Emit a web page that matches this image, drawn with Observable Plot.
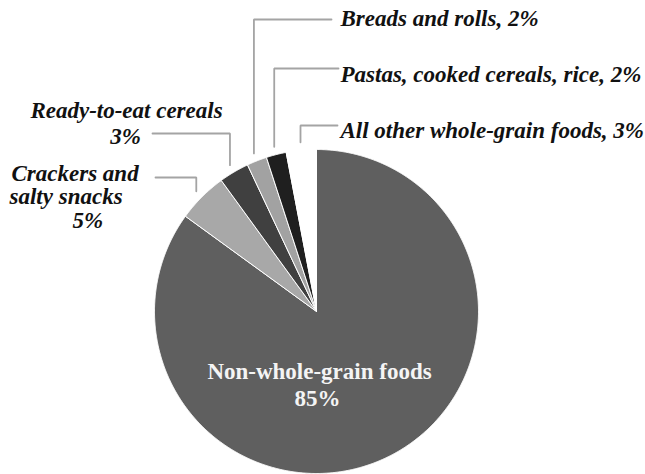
<!DOCTYPE html>
<html><head><meta charset="utf-8">
<script src="https://cdn.jsdelivr.net/npm/d3@7"></script>
<script src="https://cdn.jsdelivr.net/npm/@observablehq/plot@0.6"></script>
<style>
html,body{margin:0;padding:0;background:#fff;}
#chart svg{display:block;}
</style>
</head><body><div id="chart"></div>
<script>
// ---- data ----
const categories = ["Non-whole-grain foods", "Crackers and salty snacks", "Ready-to-eat cereals", "Breads and rolls", "Pastas, cooked cereals, rice", "All other whole-grain foods"];
const shares = [85, 5, 3, 2, 2, 3];
const labelText = [
  ["Non-whole-grain foods", "85%"],
  ["Crackers and", "salty snacks", "5%"],
  ["Ready-to-eat cereals", "3%"],
  ["Breads and rolls, 2%"],
  ["Pastas, cooked cereals, rice, 2%"],
  ["All other whole-grain foods, 3%"]
];

// ---- styles & layout ----
const sliceColors = ["#5f5f5f", "#a8a8a8", "#404040", "#a2a2a2", "#1f1f1f", "#ffffff"];
const W = 645, H = 474, CX = 316, CY = 311, R = 162, GAP = 8;
const layout = [
  {anchor: "middle", lines: [[319, 378], [317, 405]], inside: true},
  {anchor: "start", lines: [[11, 180], [9, 203], [72, 227]], leaderY: 177, leaderX: 155},
  {anchor: "middle", lines: [[126, 117], [125, 143]], leaderY: 133, leaderX: 152},
  {anchor: "start", lines: [[340, 25]], leaderY: 19, leaderX: 331},
  {anchor: "start", lines: [[340, 81]], leaderY: 68, leaderX: 338},
  {anchor: "start", lines: [[340, 137]], leaderY: 125, leaderX: 337}
];

const rows = categories.map((name, i) => ({name, share: shares[i], i}));
const arcs = d3.pie().sort(null).value(d => d.share)(rows);

const px = (a, r) => CX + r * Math.sin(a);
const py = (a, r) => CY - r * Math.cos(a);

const sliceMarks = arcs.map(a => {
  const pts = [{x: CX, y: CY}];
  const n = Math.max(4, Math.ceil((a.endAngle - a.startAngle) / 0.005));
  for (let k = 0; k <= n; k++) {
    const t = a.startAngle + (a.endAngle - a.startAngle) * k / n;
    pts.push({x: px(t, R), y: py(t, R)});
  }
  pts.push({x: CX, y: CY});
  return Plot.line(pts, {x: "x", y: "y", fill: sliceColors[a.data.i], stroke: "#ffffff", strokeWidth: 1, strokeLinejoin: "miter"});
});

const leaders = [];
arcs.forEach(a => {
  const L = layout[a.data.i];
  if (L.inside) return;
  const mid = (a.startAngle + a.endAngle) / 2;
  const x0 = px(mid, R + GAP), y0 = py(mid, R + GAP);
  leaders.push({name: a.data.name, x: x0, y: y0});
  leaders.push({name: a.data.name, x: x0, y: L.leaderY});
  leaders.push({name: a.data.name, x: L.leaderX, y: L.leaderY});
});

const textRows = [];
labelText.forEach((lines, i) => {
  lines.forEach((t, j) => {
    const [x, y] = layout[i].lines[j];
    textRows.push({text: t, x, y, anchor: layout[i].anchor, inside: !!layout[i].inside});
  });
});

const font = "Liberation Serif";

const chart = Plot.plot({
  width: W, height: H,
  margin: 0,
  x: {type: "linear", domain: [0, W], range: [0, W], axis: null},
  y: {type: "linear", domain: [0, H], range: [0, H], axis: null},
  marks: [
    ...sliceMarks,
    Plot.line(leaders, {x: "x", y: "y", z: "name", stroke: "#a4a4a4", strokeWidth: 1.8, strokeLinejoin: "miter"}),
    Plot.text(textRows.filter(d => !d.inside && d.anchor === "start"), {x: "x", y: "y", text: "text", textAnchor: "start", lineAnchor: "bottom", fontFamily: font, fontSize: 23, fontWeight: "bold", fontStyle: "italic", fill: "#111"}),
    Plot.text(textRows.filter(d => !d.inside && d.anchor === "middle"), {x: "x", y: "y", text: "text", textAnchor: "middle", lineAnchor: "bottom", fontFamily: font, fontSize: 23, fontWeight: "bold", fontStyle: "italic", fill: "#111"}),
    Plot.text(textRows.filter(d => d.inside), {x: "x", y: "y", text: "text", textAnchor: "middle", lineAnchor: "bottom", fontFamily: font, fontSize: 23, fontWeight: "bold", fill: "#f4f4f4"})
  ]
});
document.getElementById("chart").appendChild(chart);
</script>
</body></html>
